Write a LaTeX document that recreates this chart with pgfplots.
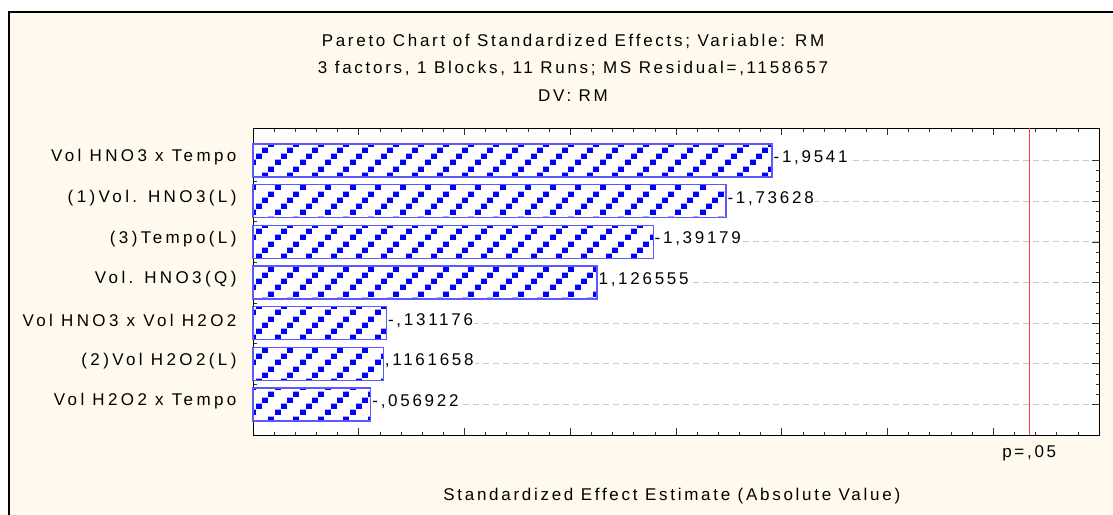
\documentclass[border=0pt]{standalone}
\usepackage{fontspec}
\setmainfont{Liberation Sans}[LetterSpace=16]
\newfontfamily\catfont{Liberation Sans}[LetterSpace=20]
\usepackage{pgfplots}
\usepackage{pgfplotstable}
\pgfplotsset{compat=1.18}
\usetikzlibrary{patterns}
\definecolor{cream}{RGB}{255,249,238}
\definecolor{barblue}{RGB}{0,0,255}
\definecolor{baredge}{RGB}{90,90,255}
\definecolor{gridgray}{RGB}{200,200,200}
\definecolor{pline}{RGB}{255,60,60}

\pgfdeclarepatternformonly{statsq}{\pgfqpoint{0pt}{0pt}}{\pgfqpoint{25pt}{25pt}}{\pgfqpoint{25pt}{25pt}}{%
  \pgfpathrectangle{\pgfqpoint{0pt}{0pt}}{\pgfqpoint{6pt}{5.5pt}}%
  \pgfpathrectangle{\pgfqpoint{6.25pt}{6.25pt}}{\pgfqpoint{6pt}{5.5pt}}%
  \pgfpathrectangle{\pgfqpoint{12.5pt}{12.5pt}}{\pgfqpoint{6pt}{5.5pt}}%
  \pgfpathrectangle{\pgfqpoint{18.75pt}{18.75pt}}{\pgfqpoint{6pt}{5.5pt}}%
  \pgfusepath{fill}}

\pgfplotstableread{
pos t lab
0 1.9541 -1,9541
1 1.73628 -1,73628
2 1.39179 -1,39179
3 1.126555 1,126555
4 0.131176 -,131176
5 0.1161658 ,1161658
6 0.056922 -,056922
}\effects

\pgfplotstableread{
x y
3.67 -0.8
3.67 6.75
}\plinetab

\newcommand{\f}{\fontsize{17}{20}\selectfont}

\begin{document}
\begin{tikzpicture}[x=1pt,y=1pt,font=\f]
\useasboundingbox (0,0) rectangle (1113,514);
\fill[white] (0,0) rectangle (1113,514);
\filldraw[fill=cream, draw=black, line width=2pt] (9,-20) rectangle (1140,502);
\node at (573,473) {Pareto Chart of Standardized Effects; Variable: RM};
\node at (573,446) {3 factors, 1 Blocks, 11 Runs; MS Residual=,1158657};
\node at (573,418) {DV: RM};

\begin{axis}[
  at={(253pt,79pt)}, anchor=south west,
  scale only axis, width=846pt, height=307pt,
  xmin=0, xmax=4, ymin=-0.8, ymax=6.75, y dir=reverse,
  clip=false,
  axis background/.style={fill=white},
  axis line style={black, line width=0.8pt},
  xtick={0,0.5,...,4}, xticklabels={,,,,,,,,,},
  minor x tick num=4,
  ytick={0,...,6},
  yticklabels={Vol HNO3 x Tempo,(1)Vol. HNO3(L),(3)Tempo(L),Vol. HNO3(Q),Vol HNO3 x Vol H2O2,(2)Vol H2O2(L),Vol H2O2 x Tempo},
  minor y tick num=3,
  tick align=inside,
  major tick length=7pt, minor tick length=3.5pt,
  tick style={black!80, line width=0.7pt},
  ymajorgrids,
  major grid style={gridgray, dash pattern=on 6pt off 4pt, line width=0.8pt},
  tick label style={font=\f},
  yticklabel style={xshift=-13pt, yshift=3pt, font=\f\catfont},
  xlabel={Standardized Effect Estimate (Absolute Value)},
  xlabel style={at={(axis description cs:0.495,0)}, anchor=center, yshift=-61pt, font=\f},
]
\addplot[sharp plot, draw=pline, line width=1pt, no marks, solid] table[x=x, y=y] {\plinetab}
  node[pos=1, anchor=center, yshift=-18pt, text=black, font=\f] {p=,05};
\addplot[fill=pline, draw=none, no marks, forget plot]
  coordinates {(3.667,-0.8) (3.673,-0.8) (3.673,6.75) (3.667,6.75)} -- cycle;
\addplot[xbar, bar width=33pt, draw=baredge, line width=1.2pt, fill=white,
  postaction={pattern=statsq, pattern color=barblue},
  point meta=explicit symbolic,
  nodes near coords,
  every node near coord/.style={anchor=west, fill=white, inner sep=1pt, yshift=3pt, font=\f, text=black}]
  table[x expr=\thisrow{t}+0.5, y=pos, meta=lab] {\effects};
\end{axis}
\end{tikzpicture}
\end{document}
